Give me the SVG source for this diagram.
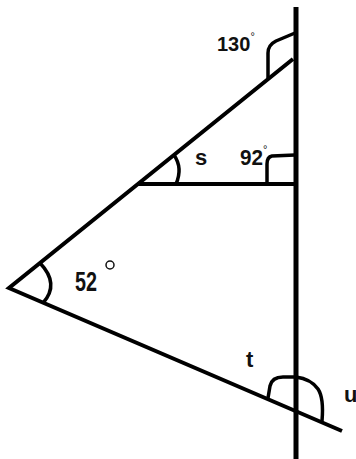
<svg xmlns="http://www.w3.org/2000/svg" width="356" height="459" viewBox="0 0 356 459">
<style>
.ln{fill:none;stroke:#000;stroke-width:4;stroke-linecap:butt}
.arc{fill:none;stroke:#000;stroke-width:3.5;stroke-linejoin:round}
.lb{font-family:"Liberation Sans",Arial,sans-serif;font-weight:bold;fill:#111;font-size:22px}
.deg{font-weight:normal;font-size:11px}
</style>
<rect width="356" height="459" fill="#fff"/>
<g id="lines">
<line class="ln" x1="296" y1="7" x2="296" y2="459" style="stroke-width:5"/>
<path class="ln" d="M293,59 L9,288 L342,431" stroke-linejoin="miter"/>
<line class="ln" x1="138" y1="184" x2="296" y2="184"/>
</g>
<g id="arcs">
<path class="arc" d="M295,33 L276,41 Q268,45 268,53 L268,78"/>
<path class="arc" d="M295,155 L272,156 Q267,157 267,164 L267,184"/>
<path class="arc" d="M174,155 Q183,168 176,184"/>
<path class="arc" d="M40,263 Q60,284 43,303"/>
<path class="arc" d="M268,398 L270,386 Q272,377 283,377 L296,377 Q311,379 318,389 Q324,398 322,421"/>
</g>
<g id="labels">
<text class="lb" x="217" y="51" style="font-size:20px">130<tspan class="deg" dy="-11">°</tspan></text>
<text class="lb" x="195" y="165">s</text>
<text class="lb" x="240" y="165"><tspan textLength="23" lengthAdjust="spacingAndGlyphs">92</tspan><tspan class="deg" dx="0" dy="-12">°</tspan></text>
<text class="lb" x="75" y="291" style="font-size:27px" textLength="22" lengthAdjust="spacingAndGlyphs">52</text>
<circle cx="110" cy="265" r="4" fill="none" stroke="#111" stroke-width="1.5"/>
<text class="lb" x="246" y="367">t</text>
<text class="lb" x="344" y="402">u</text>
</g>
</svg>
